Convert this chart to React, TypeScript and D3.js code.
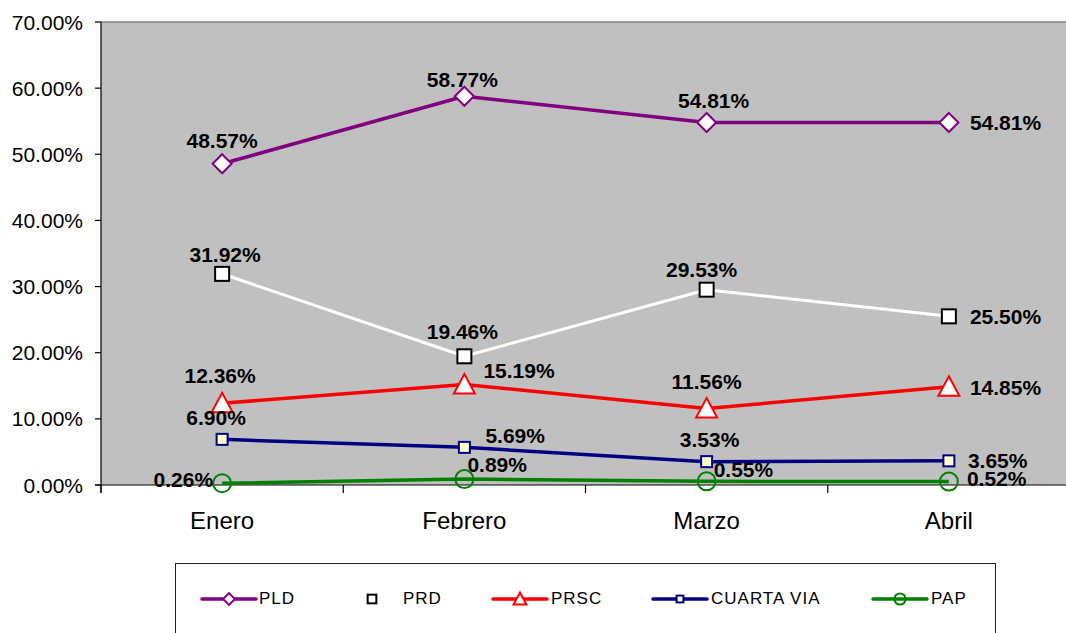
import React from "react";
import * as d3 from "d3";

const categories = ["Enero", "Febrero", "Marzo", "Abril"];
const yTicks = [0, 0.1, 0.2, 0.3, 0.4, 0.5, 0.6, 0.7];

const seriesNames = ["PLD", "PRD", "PRSC", "CUARTA VIA", "PAP"];
const pldValues = [0.4857, 0.5877, 0.5481, 0.5481];
const prdValues = [0.3192, 0.1946, 0.2953, 0.255];
const prscValues = [0.1236, 0.1519, 0.1156, 0.1485];
const cuartaViaValues = [0.069, 0.0569, 0.0353, 0.0365];
const papValues = [0.0026, 0.0089, 0.0055, 0.0052];

// label placement: [anchor, dx, dy] relative to marker centre (text baseline)
type Place = [string, number, number];
const pldLabels: Place[] = [["middle", 0, -16], ["middle", -2, -9], ["middle", 7, -14], ["start", 21, 8]];
const prdLabels: Place[] = [["middle", 3, -12], ["middle", -2, -17], ["middle", -5, -13], ["start", 21, 8]];
const prscLabels: Place[] = [["middle", -2, -20], ["start", 19, -7], ["middle", 0, -20], ["start", 21, 8]];
const cvLabels: Place[] = [["middle", -6, -14], ["start", 21, -4], ["middle", 3, -15], ["start", 19, 7]];
const papLabels: Place[] = [["end", -9, 4], ["start", 3, -7], ["start", 7, -4], ["start", 18, 4]];

const W = 1066;
const H = 633;
const plot = { left: 101, right: 1070, top: 22, bottom: 485 };
const FONT = "'Liberation Sans', Arial, sans-serif";

type Marker = "diamond" | "square" | "triangle" | "smallsquare" | "circle";

const series = [
  { name: seriesNames[0], values: pldValues, labels: pldLabels, color: "#800080", lineColor: "#800080", marker: "diamond" as Marker, fill: "#FFFFFF", width: 3.5 },
  { name: seriesNames[1], values: prdValues, labels: prdLabels, color: "#000000", lineColor: "#FFFFFF", marker: "square" as Marker, fill: "#FFFFFF", width: 3 },
  { name: seriesNames[2], values: prscValues, labels: prscLabels, color: "#FF0000", lineColor: "#FF0000", marker: "triangle" as Marker, fill: "#FFFFFF", width: 3.5 },
  { name: seriesNames[3], values: cuartaViaValues, labels: cvLabels, color: "#000080", lineColor: "#000080", marker: "smallsquare" as Marker, fill: "#FFFFCC", width: 3.5 },
  { name: seriesNames[4], values: papValues, labels: papLabels, color: "#008000", lineColor: "#008000", marker: "circle" as Marker, fill: "none", width: 3.5 },
];

function MarkerShape({ type, x, y, color, fill, scale = 1 }: { type: Marker; x: number; y: number; color: string; fill: string; scale?: number }) {
  const sw = 2;
  if (type === "diamond") {
    const h = 9.5 * scale;
    return <path d={`M${x},${y - h}L${x + h},${y}L${x},${y + h}L${x - h},${y}Z`} fill={fill} stroke={color} strokeWidth={sw} />;
  }
  if (type === "square") {
    const h = 7 * scale;
    return <rect x={x - h} y={y - h} width={2 * h} height={2 * h} fill={fill} stroke={color} strokeWidth={sw} />;
  }
  if (type === "smallsquare") {
    const h = 5.5 * scale;
    return <rect x={x - h} y={y - h} width={2 * h} height={2 * h} fill={fill} stroke={color} strokeWidth={sw} />;
  }
  if (type === "triangle") {
    const h = 10.5 * scale;
    return <path d={`M${x},${y - h}L${x + h},${y + h * 0.85}L${x - h},${y + h * 0.85}Z`} fill={fill} stroke={color} strokeWidth={sw} />;
  }
  const r = 9 * scale;
  return <circle cx={x} cy={y} r={r} fill={fill} stroke={color} strokeWidth={sw} />;
}

const fmt = d3.format(".2%");

export default function App() {
  const x = d3.scaleBand<string>().domain(categories).range([plot.left, plot.right]);
  const y = d3.scaleLinear().domain([0, 0.7]).range([plot.bottom, plot.top]);
  const cx = (c: string) => (x(c) as number) + x.bandwidth() / 2;
  const line = d3
    .line<number>()
    .x((_, i) => cx(categories[i]))
    .y((v) => y(v));

  const legendItems = [
    { x0: 202, textX: 259 },
    { x0: 345, textX: 403 },
    { x0: 493, textX: 551 },
    { x0: 653, textX: 711 },
    { x0: 873, textX: 931 },
  ];

  return (
    <svg width={W} height={H} style={{ position: "absolute", left: 0, top: 0, background: "#FFFFFF" }} fontFamily={FONT}>
      <rect x={plot.left} y={plot.top} width={plot.right - plot.left} height={plot.bottom - plot.top} fill="#C0C0C0" />
      <line x1={plot.left} x2={plot.right} y1={plot.top} y2={plot.top} stroke="#808080" strokeWidth={1.5} />
      <line x1={plot.left} x2={plot.left} y1={plot.top} y2={plot.bottom + 8} stroke="#000" strokeWidth={1.2} />
      <line x1={plot.left - 6} x2={plot.right} y1={plot.bottom} y2={plot.bottom} stroke="#000" strokeWidth={1.2} />

      {yTicks.map((t) => (
        <g key={t}>
          <line x1={plot.left - 6} x2={plot.left} y1={y(t)} y2={y(t)} stroke="#000" strokeWidth={1.2} />
          <text x={83} y={y(t)} dy="0.36em" textAnchor="end" fontSize={21} fill="#000">
            {fmt(t)}
          </text>
        </g>
      ))}

      {categories.map((c) => (
        <g key={c}>
          <line x1={x(c) as number} x2={x(c) as number} y1={plot.bottom} y2={plot.bottom + 8} stroke="#000" strokeWidth={1.2} />
          <text x={cx(c)} y={529} textAnchor="middle" fontSize={24} fill="#000">
            {c}
          </text>
        </g>
      ))}

      {series.map((s) => (
        <path key={s.name} d={line(s.values) || ""} fill="none" stroke={s.lineColor} strokeWidth={s.width} strokeLinejoin="round" />
      ))}

      {series.map((s) =>
        s.values.map((v, i) => (
          <MarkerShape key={s.name + i} type={s.marker} x={cx(categories[i])} y={y(v)} color={s.color} fill={s.fill} />
        ))
      )}

      {series.map((s) =>
        s.values.map((v, i) => {
          const [anchor, dx, dy] = s.labels[i];
          return (
            <text key={"l" + s.name + i} x={cx(categories[i]) + dx} y={y(v) + dy} textAnchor={anchor} fontSize={21} fontWeight="bold" fill="#000">
              {fmt(v)}
            </text>
          );
        })
      )}

      <rect x={175.5} y={563.5} width={820} height={90} fill="#FFFFFF" stroke="#222" strokeWidth={1} />
      {series.map((s, i) => {
        const it = legendItems[i];
        const ly = 599;
        const mx = it.x0 + 27;
        return (
          <g key={"leg" + s.name}>
            {s.name !== "PRD" && (
              <line x1={it.x0} x2={it.x0 + 54} y1={ly} y2={ly} stroke={s.lineColor} strokeWidth={3.5} strokeLinecap="round" />
            )}
            <MarkerShape type={s.marker} x={mx} y={ly} color={s.color} fill={s.fill} scale={0.62} />
            <text x={it.textX} y={604} fontSize={17} letterSpacing={1} fill="#000">
              {s.name}
            </text>
          </g>
        );
      })}
    </svg>
  );
}
